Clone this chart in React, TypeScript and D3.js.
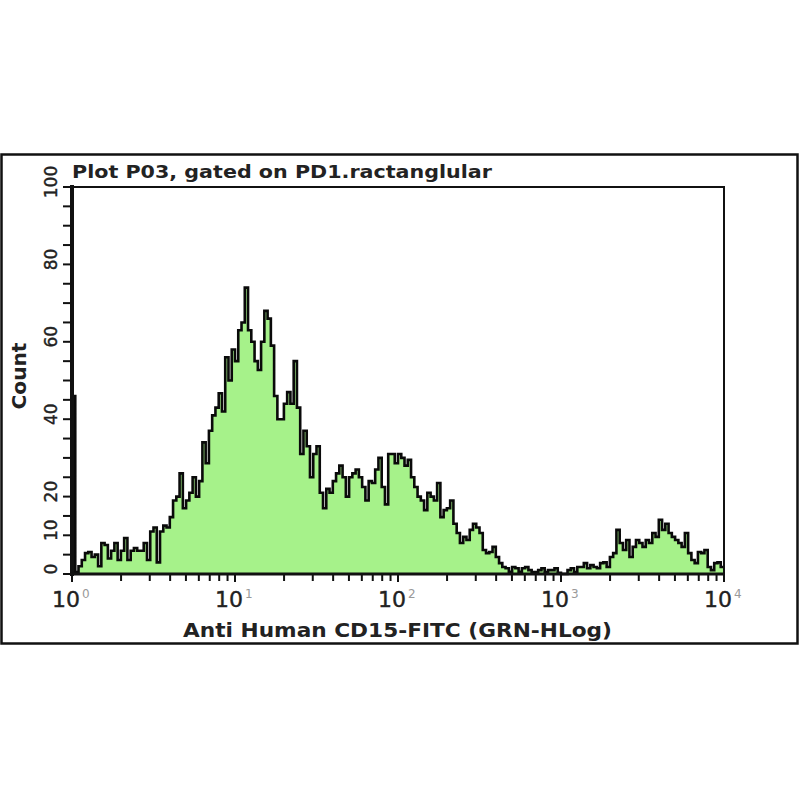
import * as d3 from "d3";

// channel counts, 200 log-spaced channels from 10^0 to 10^4
const counts: number[] = [
  46, 0.5, 2, 3.6, 5.4, 5.7, 4.4, 5, 2, 8, 7.5, 4, 6, 8, 3.6, 6, 9.3, 3.6, 6, 6.7,
  6, 6, 8, 3.6, 11, 12, 3, 11, 12.5, 12, 14.7, 19, 20, 26, 17, 19, 21, 25, 20, 24,
  34, 28.6, 37, 41, 43, 46.7, 42, 56, 50, 58, 55, 63, 65, 74, 63, 60, 55, 52.7, 60, 68,
  66, 59, 46, 40, 40, 44, 47, 44, 55, 43, 31, 37, 33, 25, 31, 33, 21, 17, 22, 21,
  24, 26, 28, 25, 20, 25, 26, 27, 25, 22.5, 19, 24, 23.5, 27, 30, 22.5, 18, 31, 31, 28.6,
  31, 30, 28, 29.5, 25, 22.5, 20, 19, 16.5, 21, 20, 19, 23.5, 14.7, 16.5, 17, 19, 13, 10.6, 8,
  9.6, 8.8, 11.4, 13, 12, 10.6, 6.2, 5.4, 5.7, 7, 4.4, 2.8, 1.8, 1.5, 0.6, 1.8, 1.5, 0.6, 1.5, 1.8,
  1, 0.5, 0.5, 1, 1.5, 0.5, 1, 1, 1.5, 0.3, 0, 0, 1, 1.5, 0.5, 1.8, 1.8, 2.8, 1.5, 2.3,
  1.8, 1.5, 2.8, 3, 1.8, 4.4, 5.4, 11.4, 8, 6.2, 8.8, 4.4, 7, 8.8, 8, 7, 8.8, 8, 10.6, 9.6,
  14, 11.4, 13, 10.6, 9.6, 8.8, 8, 7, 10.6, 5.4, 3.6, 2.8, 5.7, 5.4, 6.2, 1.8, 1, 2.8, 3, 1.8,
];

const decades = [0, 1, 2, 3, 4];
const yLabelValues = [0, 10, 20, 40, 60, 80, 100];
const yMinorStep = 5;

const title = "Plot P03, gated on PD1.ractanglular";
const xTitle = "Anti Human CD15-FITC (GRN-HLog)";
const yTitle = "Count";

const FONT = "'DejaVu Sans', sans-serif";

export default function App() {
  const left = 72;
  const right = 724;
  const top = 187;
  const bottom = 574;

  const x = d3.scaleLog().domain([1, 10000]).range([left, right]);
  const y = d3.scaleLinear().domain([0, 100]).range([bottom, top]);

  const n = counts.length;
  const edge = (i: number) => Math.pow(10, (4 * i) / n);
  const pts: [number, number][] = counts.map((c, i) => [edge(i), c]);
  pts.push([edge(n), counts[n - 1]]);

  const area = d3
    .area<[number, number]>()
    .x((d) => x(d[0]))
    .y0(bottom)
    .y1((d) => y(d[1]))
    .curve(d3.curveStepAfter);
  const line = d3
    .line<[number, number]>()
    .x((d) => x(d[0]))
    .y((d) => y(d[1]))
    .curve(d3.curveStepAfter);

  const minorX: number[] = [];
  decades.slice(0, -1).forEach((d) => {
    for (let k = 2; k <= 9; k++) minorX.push(k * Math.pow(10, d));
  });
  const yTicks = d3.range(0, 100 + yMinorStep, yMinorStep);

  return (
    <svg
      width={800}
      height={800}
      viewBox="0 0 800 800"
      style={{ position: "absolute", left: 0, top: 0, background: "#fff" }}
    >
      <rect x={0} y={0} width={800} height={800} fill="#fff" />
      <rect x={1.5} y={154.5} width={796} height={489} fill="none" stroke="#111" strokeWidth={2.5} />

      <text x={72} y={178} fontFamily={FONT} fontSize={18} fontWeight="bold" fill="#222"
        textLength={420} lengthAdjust="spacingAndGlyphs">
        {title}
      </text>

      {/* histogram */}
      <path d={area(pts) || ""} fill="#a6f28a" stroke="none" />
      <path d={line(pts) || ""} fill="none" stroke="#0a0a0a" strokeWidth={2.6} />

      {/* plot frame */}
      <rect x={left} y={top} width={right - left} height={bottom - top} fill="none" stroke="#111" strokeWidth={2} />
      <line x1={left} x2={left} y1={top - 2} y2={bottom + 2} stroke="#111" strokeWidth={4} />
      <line x1={left - 2} x2={right + 1} y1={bottom} y2={bottom} stroke="#111" strokeWidth={3} />

      {/* y ticks */}
      {yTicks.map((t) => (
        <line key={"yt" + t} x1={left - 9} x2={left} y1={y(t)} y2={y(t)} stroke="#111" strokeWidth={2} />
      ))}
      {yLabelValues.map((t) => (
        <text key={"yl" + t} transform={`translate(57,${y(t) - 5}) rotate(-90)`}
          textAnchor="middle" fontFamily={FONT} fontSize={17} fill="#222" stroke="#222" strokeWidth={0.4}>
          {t}
        </text>
      ))}
      <text transform="translate(26,376) rotate(-90)" textAnchor="middle" fontFamily={FONT}
        fontSize={19} fontWeight="bold" fill="#222" textLength={67} lengthAdjust="spacingAndGlyphs">
        {yTitle}
      </text>

      {/* x ticks */}
      {minorX.map((v) => (
        <line key={"mx" + v} x1={x(v)} x2={x(v)} y1={bottom} y2={bottom + 7} stroke="#111" strokeWidth={2} />
      ))}
      {decades.map((d) => (
        <g key={"dx" + d}>
          <line x1={x(Math.pow(10, d))} x2={x(Math.pow(10, d))} y1={bottom} y2={bottom + 8} stroke="#111" strokeWidth={2} />
          <text x={x(Math.pow(10, d)) - 20} y={607} fontFamily={FONT} fontSize={22} fill="#222" stroke="#222" strokeWidth={0.4}>
            10
            <tspan dx={2} dy={-9} fontSize={12} fill="#999" stroke="none">{d}</tspan>
          </text>
        </g>
      ))}
      <text x={183} y={637} fontFamily={FONT} fontSize={19} fontWeight="bold" fill="#222"
        textLength={429} lengthAdjust="spacingAndGlyphs">
        {xTitle}
      </text>
    </svg>
  );
}
